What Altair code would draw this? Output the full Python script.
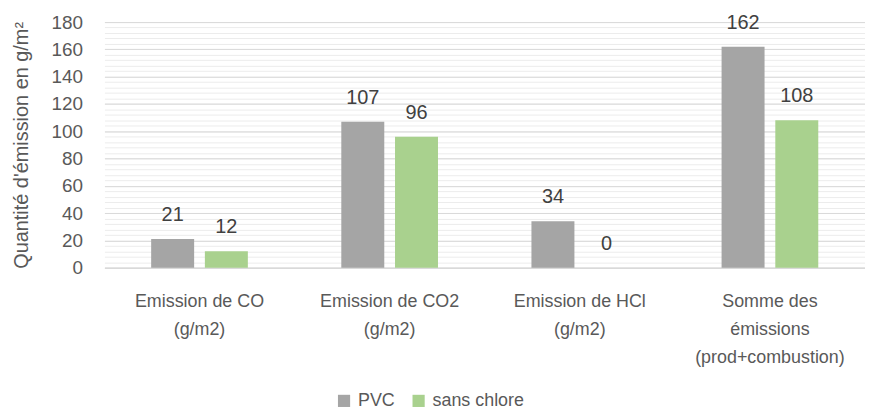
import altair as alt
import pandas as pd

categories = ["Emission de CO|(g/m2)", "Emission de CO2|(g/m2)", "Emission de HCl|(g/m2)",
              "Somme des|émissions|(prod+combustion)"]
series = ["PVC", "sans chlore"]
pvc = [21, 107, 34, 162]
sans_chlore = [12, 96, 0, 108]
colors = ["#A5A5A5", "#A9D18E"]
major_ticks = list(range(0, 181, 20))
minor_ticks = list(range(0, 181, 4))

rows = []
for i, c in enumerate(categories):
    rows.append({"cat": c, "serie": series[0], "val": pvc[i]})
    rows.append({"cat": c, "serie": series[1], "val": sans_chlore[i]})
df = pd.DataFrame(rows)

FONT = "Liberation Sans"
TXT = "#595959"

x = alt.X("cat:N", sort=categories, title=None,
          scale=alt.Scale(paddingInner=0, paddingOuter=0),
          axis=alt.Axis(labelExpr="split(datum.label, '|')", labelAngle=0,
                        labelFontSize=18, labelColor=TXT, labelFont=FONT,
                        labelLineHeight=28, labelPadding=25, ticks=False,
                        domainColor="#D9D9D9", domainWidth=1.5, labelBaseline="top"))
xo = alt.XOffset("serie:N", sort=series,
                 scale=alt.Scale(paddingInner=0.2, paddingOuter=0.87))
yscale = alt.Scale(domain=[0, 180], nice=False)

major_axis = alt.Axis(values=major_ticks, grid=True, gridColor="#D9D9D9", gridWidth=1,
                      domain=False, ticks=False, labelFontSize=19, labelColor=TXT,
                      labelFont=FONT, labelPadding=22, labelOverlap=False,
                      titleFontSize=20, titleFont=FONT, titleColor=TXT,
                      titleFontWeight="normal", titlePadding=20, orient="left")
TITLE = "Quantité d'émission en g/m²"

minor = alt.Chart(df).mark_bar(opacity=0).encode(
    x=x,
    y=alt.Y("val:Q", scale=yscale, title=None,
            axis=alt.Axis(values=minor_ticks, labels=False, ticks=False, domain=False,
                          grid=True, gridColor="#ECECEC", gridWidth=1, orient="left")),
)

bars = alt.Chart(df).mark_bar().encode(
    x=x,
    xOffset=xo,
    y=alt.Y("val:Q", scale=yscale, title=TITLE, axis=major_axis),
    color=alt.Color("serie:N", sort=series,
                    scale=alt.Scale(domain=series, range=colors),
                    legend=alt.Legend(title=None, orient="none", direction="horizontal",
                                      legendX=232, legendY=372, symbolType="square",
                                      symbolSize=150, symbolStrokeWidth=0,
                                      labelFontSize=18, labelColor=TXT, labelFont=FONT,
                                      columnPadding=14, labelOffset=5)),
)

labels = alt.Chart(df).mark_text(baseline="bottom", dy=-14, fontSize=20, color="#404040",
                                 font=FONT).encode(
    x=x, xOffset=xo, y=alt.Y("val:Q", scale=yscale, title=TITLE, axis=major_axis),
    text="val:Q")

chart = alt.layer(minor, bars + labels).resolve_axis(y="independent").properties(
    width=765, height=247,
    padding={"left": 97, "top": 13, "right": 0, "bottom": 143},
    autosize=alt.AutoSizeParams(type="none"),
).configure_view(stroke=None)

chart.save("out.html", embed_options={"renderer": "svg", "actions": False})
